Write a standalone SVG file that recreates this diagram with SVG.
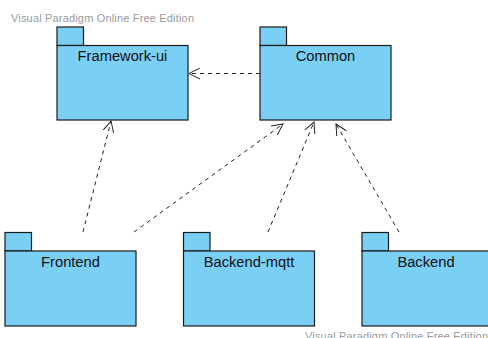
<svg xmlns="http://www.w3.org/2000/svg" width="488" height="338" viewBox="0 0 488 338">
  <style>
    .pkg rect { fill: #7acff5; stroke: #1a1a1a; stroke-width: 1.2; }
    .name { font-family: "Liberation Sans", Arial, sans-serif; font-size: 14.7px; fill: #111; text-anchor: middle; }
    .wm { font-family: "Liberation Sans", Arial, sans-serif; font-size: 11px; fill: #9a9a9a; }
    .dep { fill: none; stroke: #222; stroke-width: 1; stroke-dasharray: 4 4; marker-end: url(#open); }
  </style>
  <defs>
    <marker id="open" viewBox="0 0 12 12" refX="11" refY="6" markerWidth="12" markerHeight="12" markerUnits="userSpaceOnUse" orient="auto">
      <path d="M0,0.5 L11,6 L0,11.5" fill="none" stroke="#222" stroke-width="1"/>
    </marker>
  </defs>
  <rect width="488" height="338" fill="#ffffff"/>

  <text class="wm" x="11" y="21.5" textLength="183">Visual Paradigm Online Free Edition</text>

  <g id="framework-ui" class="pkg">
    <rect x="57" y="27" width="26.5" height="18.5"/>
    <rect x="57" y="45.5" width="131" height="74.5"/>
    <text class="name" x="122.5" y="61">Framework-ui</text>
  </g>

  <g id="common" class="pkg">
    <rect x="260" y="27" width="26.5" height="18.5"/>
    <rect x="260" y="45.5" width="131" height="74.5"/>
    <text class="name" x="325.5" y="61">Common</text>
  </g>

  <g id="frontend" class="pkg">
    <rect x="5" y="232.5" width="26.5" height="18.5"/>
    <rect x="5" y="251" width="131" height="75"/>
    <text class="name" x="70.5" y="267">Frontend</text>
  </g>

  <g id="backend-mqtt" class="pkg">
    <rect x="183.5" y="232.5" width="26.5" height="18.5"/>
    <rect x="183.5" y="251" width="131" height="75"/>
    <text class="name" x="249" y="267">Backend-mqtt</text>
  </g>

  <g id="backend" class="pkg">
    <rect x="362" y="232.5" width="26.5" height="18.5"/>
    <rect x="362" y="251" width="131" height="75"/>
    <text class="name" x="426" y="267">Backend</text>
  </g>

  <g id="connectors">
    <line class="dep" x1="260" y1="73.5" x2="189" y2="73.5"/>
    <line class="dep" x1="83" y1="232" x2="111" y2="121"/>
    <line class="dep" x1="134" y1="232" x2="283" y2="124"/>
    <line class="dep" x1="268" y1="232" x2="314" y2="122"/>
    <line class="dep" x1="399" y1="232" x2="336" y2="124"/>
  </g>

  <text class="wm" x="305" y="339.5" textLength="183">Visual Paradigm Online Free Edition</text>
</svg>
